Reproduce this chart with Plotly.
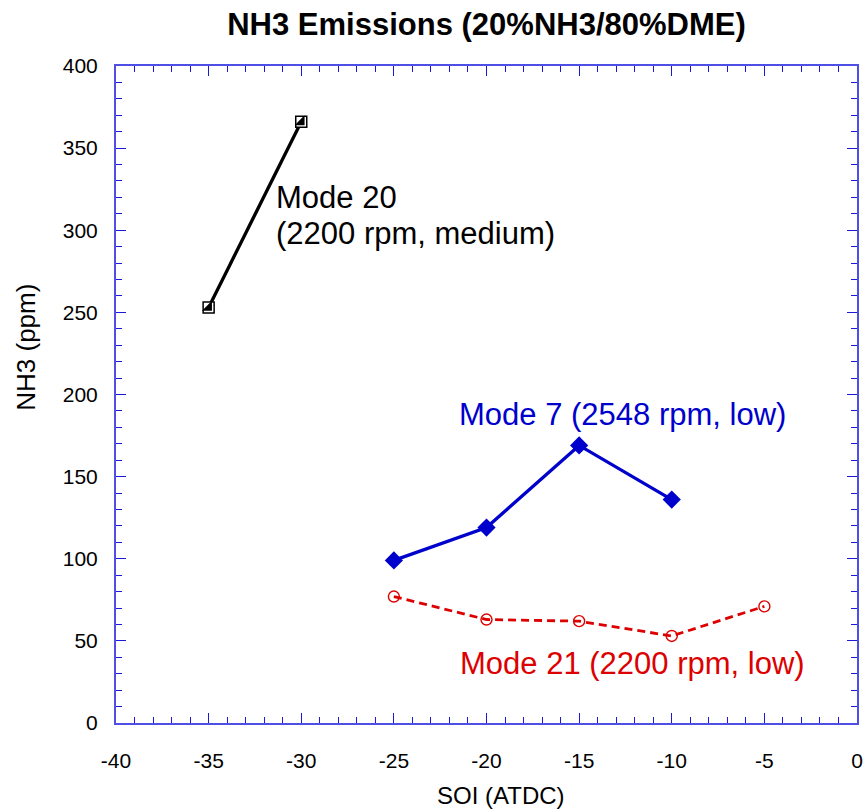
import plotly.graph_objects as go

# SOI timing (deg ATDC) and NH3 readings (ppm) for each operating mode
soi_mode20 = [-35, -30]
nh3_mode20 = [253, 366]

soi_mode7 = [-25, -20, -15, -10]
nh3_mode7 = [99, 119, 169, 136]

soi_mode21 = [-25, -20, -15, -10, -5]
nh3_mode21 = [77, 63, 62, 53, 71]

x_ticks = [-40, -35, -30, -25, -20, -15, -10, -5, 0]
y_ticks = [0, 50, 100, 150, 200, 250, 300, 350, 400]

FONT = "Liberation Sans, Arial, sans-serif"
AXIS_BLUE = "#4f4fe6"
TICK_BLUE = "#1a1ad6"

fig = go.Figure()

# Mode 20: black line with half-filled squares
fig.add_trace(go.Scatter(
    x=soi_mode20, y=nh3_mode20, mode="lines+markers",
    line=dict(color="black", width=3.3),
    marker=dict(symbol="square", size=11, color="white",
                line=dict(color="black", width=1.5)),
    showlegend=False, hoverinfo="x+y",
))
fig.add_trace(go.Scatter(
    x=soi_mode20, y=nh3_mode20, mode="markers",
    marker=dict(symbol="triangle-se", size=11, color="black",
                line=dict(width=0)),
    showlegend=False, hoverinfo="skip",
))

# Mode 7: solid blue line with filled diamonds
fig.add_trace(go.Scatter(
    x=soi_mode7, y=nh3_mode7, mode="lines+markers",
    line=dict(color="#0000cc", width=3.3),
    marker=dict(symbol="diamond", size=14, color="#0000cc"),
    showlegend=False,
))

# Mode 21: dashed red line with open circles
fig.add_trace(go.Scatter(
    x=soi_mode21, y=nh3_mode21, mode="lines+markers",
    line=dict(color="#dd0000", width=2.8, dash="8px,5px"),
    marker=dict(symbol="circle-open", size=11, color="#dd0000",
                line=dict(width=1.4)),
    showlegend=False,
))

axis_common = dict(
    showline=True, linecolor=AXIS_BLUE, linewidth=2, mirror="ticks",
    ticks="inside", ticklen=10, tickwidth=1.3, tickcolor=TICK_BLUE,
    showgrid=False, zeroline=False,
    tickfont=dict(family=FONT, size=21, color="black"),
)

fig.update_xaxes(
    range=[-40, 0], tickvals=x_ticks, ticktext=[str(v) for v in x_ticks],
    minor=dict(ticks="inside", ticklen=6, tickwidth=1.2, tickcolor=TICK_BLUE,
               dtick=1, tick0=0, showgrid=False),
    ticklabelstandoff=18,
    **axis_common,
)
fig.update_yaxes(
    range=[0, 400], tickvals=y_ticks, ticktext=[str(v) for v in y_ticks],
    minor=dict(ticks="inside", ticklen=6, tickwidth=1.2, tickcolor=TICK_BLUE,
               dtick=10, tick0=0, showgrid=False),
    ticklabelstandoff=12,
    **axis_common,
)

label_font = dict(family=FONT, size=31)
annotations = [
    dict(x=-31.45, y=320, xref="x", yref="y", xanchor="left", yanchor="middle",
         showarrow=False, text="Mode 20",
         font=dict(label_font, color="black")),
    dict(x=-31.45, y=298, xref="x", yref="y", xanchor="left", yanchor="middle",
         showarrow=False, text="(2200 rpm, medium)",
         font=dict(label_font, color="black")),
    dict(x=-21.6, y=188, xref="x", yref="y", xanchor="left", yanchor="middle",
         showarrow=False, text="Mode 7 (2548 rpm, low)",
         font=dict(label_font, color="#0000cc")),
    dict(x=-21.55, y=36, xref="x", yref="y", xanchor="left", yanchor="middle",
         showarrow=False, text="Mode 21 (2200 rpm, low)",
         font=dict(label_font, color="#dd0000")),
]

W, H = 868, 809
L, R, T, B = 116, 5, 66, 86
pw, ph = W - L - R, H - T - B


def pixel_label(px, py, text, size, angle=0):
    """Axis title placed at a pixel position of the page."""
    return dict(x=(px - L) / pw, y=(H - B - py) / ph, xref="paper", yref="paper",
                xanchor="center", yanchor="middle", showarrow=False,
                text=text, textangle=angle,
                font=dict(family=FONT, size=size, color="black"))


annotations.append(pixel_label(25, 347, "NH3 (ppm)", 26, -90))
annotations.append(pixel_label(504, 795, "SOI (ATDC)", 24))

fig.update_layout(
    width=W, height=H,
    margin=dict(l=L, r=R, t=T, b=B),
    paper_bgcolor="white", plot_bgcolor="white",
    title=dict(text="<b>NH3 Emissions (20%NH3/80%DME)</b>",
               x=0.5, xref="paper", y=1 - 24 / H, yref="container",
               xanchor="center", yanchor="middle",
               font=dict(family=FONT, size=31, color="black")),
    annotations=annotations,
)

fig.write_html("out.html")
